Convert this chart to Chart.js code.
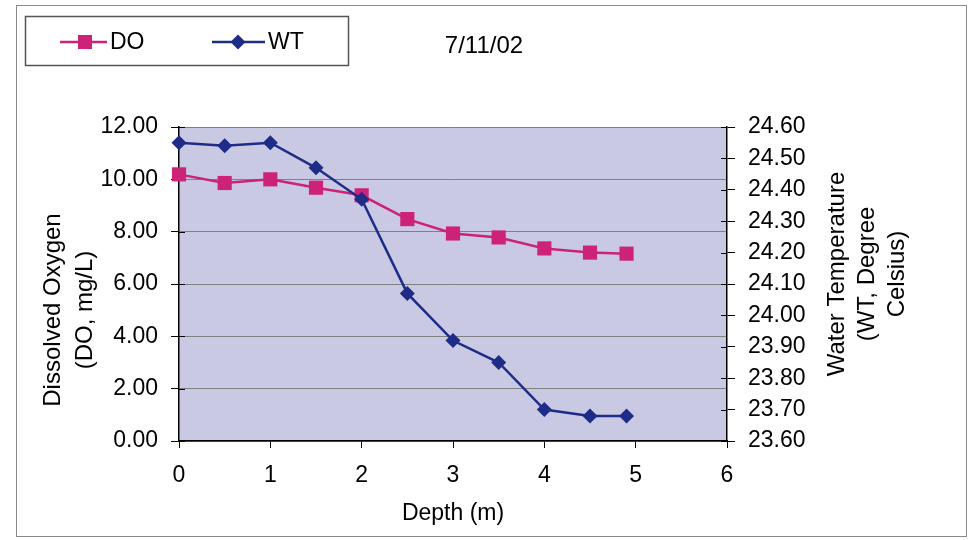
<!DOCTYPE html>
<html>
<head>
<meta charset="utf-8">
<script src="https://cdn.jsdelivr.net/npm/chart.js@4/dist/chart.umd.min.js"></script>
<style>
html,body{margin:0;padding:0;background:#fff;}
#wrap{width:970px;height:540px;position:relative;}
canvas{display:block;}
</style>
</head>
<body>
<div id="wrap"><canvas id="c" width="970" height="540"></canvas></div>
<script>
// ---- data ----
const depth = [0, 0.5, 1, 1.5, 2, 2.5, 3, 3.5, 4, 4.5, 4.9];
const doValues = [10.19, 9.86, 10.00, 9.68, 9.39, 8.48, 7.93, 7.78, 7.36, 7.20, 7.16];
const wtValues = [24.55, 24.54, 24.55, 24.47, 24.37, 24.07, 23.92, 23.85, 23.70, 23.68, 23.68];
const xTicks = [0, 1, 2, 3, 4, 5, 6];
const doTicks = [0, 2, 4, 6, 8, 10, 12];
const wtTicks = [23.6, 23.7, 23.8, 23.9, 24.0, 24.1, 24.2, 24.3, 24.4, 24.5, 24.6];
const seriesLabels = ['DO', 'WT'];
const chartTitle = '7/11/02';
const xTitle = 'Depth (m)';
const yTitle = ['Dissolved Oxygen', '(DO, mg/L)'];
const y2Title = ['Water Temperature', '(WT, Degree', 'Celsius)'];

const DO_COLOR = '#CC2277';
const WT_COLOR = '#1E2C88';
const FONT = "'Liberation Sans', Arial, sans-serif";

const doPoints = depth.map((d, i) => ({x: d, y: doValues[i]}));
const wtPoints = depth.map((d, i) => ({x: d, y: wtValues[i]}));

const decorPlugin = {
  id: 'decor',
  beforeDraw(chart) {
    const ctx = chart.ctx;
    const a = chart.chartArea;
    ctx.save();
    ctx.fillStyle = '#fff';
    ctx.fillRect(0, 0, chart.width, chart.height);
    ctx.strokeStyle = '#8a8a8a';
    ctx.lineWidth = 1;
    ctx.strokeRect(16.5, 5.5, 950, 531);
    ctx.fillStyle = '#C9C9E3';
    ctx.fillRect(a.left, a.top, a.right - a.left, a.bottom - a.top);
    ctx.restore();
  },
  beforeDatasetsDraw(chart) {
    // inner halves of the crossing tick marks on both value axes
    const ctx = chart.ctx;
    const a = chart.chartArea;
    ctx.save();
    ctx.strokeStyle = '#000';
    ctx.lineWidth = 1;
    chart.scales.y.ticks.forEach(t => {
      const py = Math.round(chart.scales.y.getPixelForValue(t.value)) + 0.5;
      ctx.beginPath(); ctx.moveTo(a.left, py); ctx.lineTo(a.left + 6, py); ctx.stroke();
    });
    chart.scales.y2.ticks.forEach(t => {
      const py = Math.round(chart.scales.y2.getPixelForValue(t.value)) + 0.5;
      ctx.beginPath(); ctx.moveTo(a.right - 6, py); ctx.lineTo(a.right, py); ctx.stroke();
    });
    ctx.restore();
  },
  afterDraw(chart) {
    const ctx = chart.ctx;
    ctx.save();
    ctx.strokeStyle = '#555';
    ctx.lineWidth = 1.5;
    ctx.strokeRect(25.5, 16.5, 323, 49);
    const ly = 42;
    ctx.strokeStyle = DO_COLOR;
    ctx.lineWidth = 2.5;
    ctx.beginPath(); ctx.moveTo(60, ly); ctx.lineTo(107, ly); ctx.stroke();
    ctx.fillStyle = DO_COLOR;
    ctx.fillRect(85 - 7, ly - 7, 14, 14);
    ctx.strokeStyle = WT_COLOR;
    ctx.beginPath(); ctx.moveTo(212, ly); ctx.lineTo(265, ly); ctx.stroke();
    ctx.fillStyle = WT_COLOR;
    ctx.beginPath();
    ctx.moveTo(238, ly - 7.5); ctx.lineTo(245.5, ly); ctx.lineTo(238, ly + 7.5); ctx.lineTo(230.5, ly);
    ctx.closePath(); ctx.fill();
    ctx.fillStyle = '#000';
    ctx.font = '23px ' + FONT;
    ctx.textAlign = 'left';
    ctx.textBaseline = 'middle';
    ctx.fillText(seriesLabels[0], 110, ly + 1);
    ctx.fillText(seriesLabels[1], 268, ly + 1);
    ctx.font = '24px ' + FONT;
    ctx.textAlign = 'center';
    ctx.fillText(chartTitle, 484, 46);
    ctx.font = '23px ' + FONT;
    ctx.fillText(xTitle, 453, 514);
    ctx.font = '24px ' + FONT;
    const lx = [53, 85];
    yTitle.forEach((t, i) => {
      ctx.save(); ctx.translate(lx[i], 310); ctx.rotate(-Math.PI / 2);
      ctx.fillText(t, 0, 0); ctx.restore();
    });
    const rx = [837, 867, 897];
    y2Title.forEach((t, i) => {
      ctx.save(); ctx.translate(rx[i], 274); ctx.rotate(-Math.PI / 2);
      ctx.fillText(t, 0, 0); ctx.restore();
    });
    ctx.restore();
  }
};

const tickFont = {family: FONT, size: 23};

new Chart(document.getElementById('c'), {
  type: 'scatter',
  data: {
    datasets: [
      {
        label: seriesLabels[0], data: doPoints, yAxisID: 'y', showLine: true, clip: false,
        borderColor: DO_COLOR, backgroundColor: DO_COLOR, borderWidth: 2.5,
        pointStyle: 'rect', pointRadius: 10, pointHoverRadius: 10, pointBorderWidth: 0,
        order: 2
      },
      {
        label: seriesLabels[1], data: wtPoints, yAxisID: 'y2', showLine: true, clip: false,
        borderColor: WT_COLOR, backgroundColor: WT_COLOR, borderWidth: 2.5,
        pointStyle: 'rectRot', pointRadius: 7.5, pointHoverRadius: 7.5, pointBorderWidth: 0,
        order: 1
      }
    ]
  },
  options: {
    responsive: false,
    devicePixelRatio: 1,
    animation: false,
    events: [],
    layout: {padding: {top: 127, left: 0, right: 0, bottom: 0}},
    plugins: {legend: {display: false}, tooltip: {enabled: false}, title: {display: false}},
    scales: {
      x: {
        type: 'linear', position: 'bottom', min: 0, max: 6,
        afterBuildTicks: s => { s.ticks = xTicks.map(v => ({value: v})); },
        afterFit: s => { s.height = 99; },
        ticks: {font: tickFont, color: '#000', padding: 14, maxRotation: 0, callback: v => String(v)},
        grid: {drawOnChartArea: false, drawTicks: true, tickLength: 7, tickColor: '#000'},
        border: {display: true, color: '#000', width: 1.5}
      },
      y: {
        type: 'linear', position: 'left', min: 0, max: 12,
        afterBuildTicks: s => { s.ticks = doTicks.map(v => ({value: v})); },
        afterFit: s => { s.width = 179; },
        ticks: {font: tickFont, color: '#000', padding: 13, callback: v => Number(v).toFixed(2)},
        grid: {color: '#808080', lineWidth: 1, tickLength: 8, tickColor: '#000'},
        border: {display: true, color: '#000', width: 1.5}
      },
      y2: {
        type: 'linear', position: 'right', min: 23.6, max: 24.6,
        afterBuildTicks: s => { s.ticks = wtTicks.map(v => ({value: v})); },
        afterFit: s => { s.width = 243; },
        ticks: {font: tickFont, color: '#000', padding: 13, callback: v => Number(v).toFixed(2)},
        grid: {drawOnChartArea: false, tickLength: 8, tickColor: '#000'},
        border: {display: true, color: '#000', width: 1.5}
      }
    }
  },
  plugins: [decorPlugin]
});
</script>
</body>
</html>
